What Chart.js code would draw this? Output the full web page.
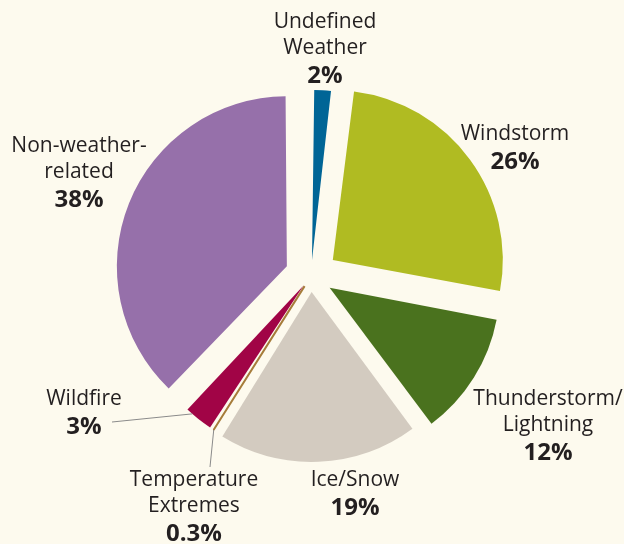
<!DOCTYPE html>
<html>
<head>
<meta charset="utf-8">
<script src="https://cdn.jsdelivr.net/npm/chart.js@4.4.1/dist/chart.umd.min.js"></script>
<style>
  html, body { margin: 0; padding: 0; background: #fdfaee; }
  #myChart { display: block; }
</style>
</head>
<body>
<canvas id="myChart" width="624" height="544"></canvas>
<script>
// data
const categories = ['Undefined Weather', 'Windstorm', 'Thunderstorm/Lightning', 'Ice/Snow', 'Temperature Extremes', 'Wildfire', 'Non-weather-related'];
const shares = [2, 26, 12, 19, 0.3, 3, 38];
const shareLabels = ['2%', '26%', '12%', '19%', '0.3%', '3%', '38%'];
const nameLines = [['Undefined', 'Weather'], ['Windstorm'], ['Thunderstorm/', 'Lightning'], ['Ice/Snow'], ['Temperature', 'Extremes'], ['Wildfire'], ['Non-weather-', 'related']];

// styles
const colors = ['#006596', '#b0bb22', '#4a721e', '#d3cbc0', '#a67c3a', '#a10446', '#9670aa'];
const pullOut = [16, 27, 22, 16, 12, 12, 26];          // px each slice is moved out
const labelPos = [[325, 28], [515, 140], [548, 405], [355, 486], [194, 486], [84, 405], [79, 152]]; // centre x, first baseline
const leaders = { 5: [112, 422, 0.75], 4: [210, 467, 0.5] }; // end point + where on the arc it starts
const R = 170;

const pieLabels = {
  id: 'pieLabels',
  beforeDatasetsDraw(chart) {
    // offset also grows the radius of thin slices, take that back
    chart.getDatasetMeta(0).data.forEach(arc => {
      const off = (arc.options.offset || 0) / 4;
      const fix = 1 - Math.sin(Math.min(Math.PI, arc.circumference));
      arc.outerRadius = R - off * fix;
    });
  },
  afterDatasetsDraw(chart) {
    const ctx = chart.ctx;
    const arcs = chart.getDatasetMeta(0).data;
    ctx.save();

    // leader lines
    ctx.strokeStyle = '#8a8a8a';
    ctx.lineWidth = 1;
    Object.keys(leaders).forEach(k => {
      const arc = arcs[k];
      const [ex, ey, t] = leaders[k];
      const half = (arc.startAngle + arc.endAngle) / 2;
      const off = arc.options.offset / 4;
      const a = arc.startAngle + (arc.endAngle - arc.startAngle) * t;
      const sx = arc.x + Math.cos(half) * off + Math.cos(a) * R;
      const sy = arc.y + Math.sin(half) * off + Math.sin(a) * R;
      ctx.beginPath();
      ctx.moveTo(sx, sy);
      ctx.lineTo(ex, ey);
      ctx.stroke();
    });

    ctx.fillStyle = '#231f20';
    ctx.textAlign = 'center';
    ctx.textBaseline = 'alphabetic';
    categories.forEach((c, i) => {
      const [x, y] = labelPos[i];
      ctx.font = '21px "Open Sans"';
      nameLines[i].forEach((line, j) => ctx.fillText(line, x, y + j * 26));
      ctx.font = 'bold 24px "Open Sans"';
      ctx.fillText(shareLabels[i], x, y + (nameLines[i].length - 1) * 26 + 29);
    });
    ctx.restore();
  }
};

new Chart(document.getElementById('myChart'), {
  type: 'pie',
  data: {
    labels: categories,
    datasets: [{
      data: shares,
      backgroundColor: colors,
      borderColor: colors,
      borderWidth: [0, 0, 0, 0, 2, 0, 0],
      offset: pullOut.map(p => p * 4)
    }]
  },
  options: {
    responsive: false,
    animation: false,
    events: [],
    radius: R,
    layout: { padding: { left: 0, right: 2, top: 8, bottom: 0 } },
    plugins: {
      legend: { display: false },
      tooltip: { enabled: false }
    }
  },
  plugins: [pieLabels]
});
</script>
</body>
</html>
